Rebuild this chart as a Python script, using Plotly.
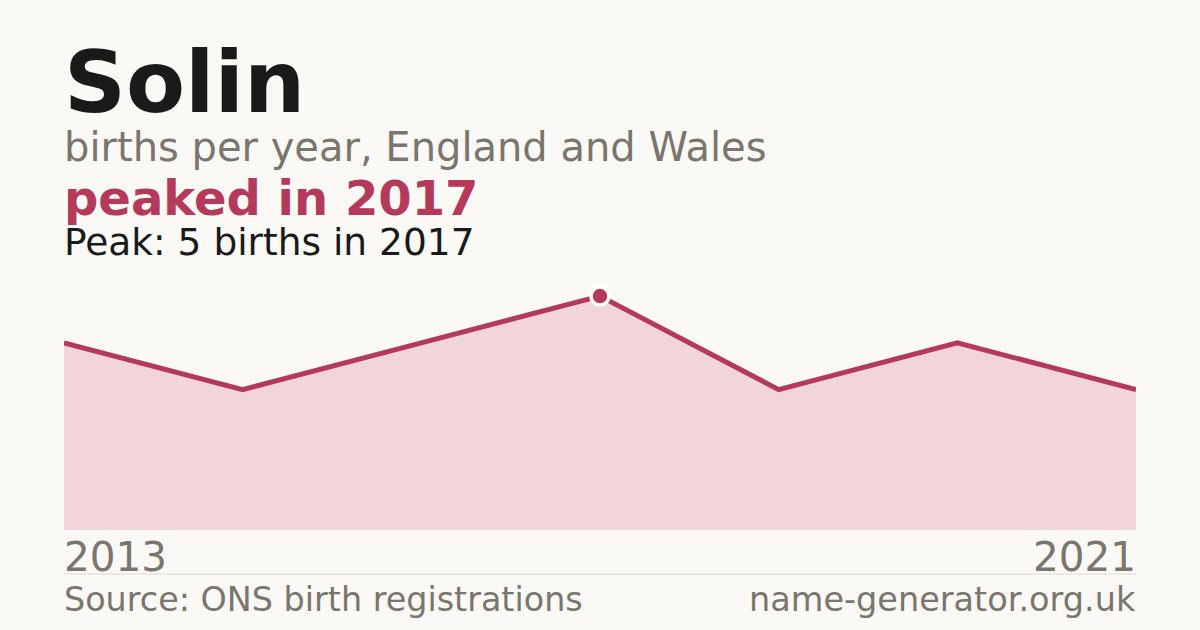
import plotly.graph_objects as go

name = "Solin"
years = ["2013", "2014", "2016", "2017", "2018", "2019", "2021"]
births = [4, 3, 4, 5, 3, 4, 3]
peak_year = "2017"
peak_value = 5

BG = "#FAF9F5"
LINE = "#B5395A"
FILL = "#F2D5DB"
GRAY = "#7A756D"
DARK = "#1A1A1A"
FONT = "DejaVu Sans"

W, H = 1200, 630
L, R, T, B = 64, 64, 282, 100
ph = H - T - B

def py(pix):
    return (H - B - pix) / ph

fig = go.Figure()
fig.add_trace(go.Scatter(
    x=years, y=births, mode="lines", fill="tozeroy",
    fillcolor=FILL, line=dict(color=LINE, width=5), hoverinfo="skip",
))
fig.add_trace(go.Scatter(
    x=[peak_year], y=[peak_value], mode="markers",
    marker=dict(color=LINE, size=18, line=dict(color="white", width=3.5)),
    hoverinfo="skip",
))

ann = []
def text(t, x, y, size, color, bold=False, xanchor="left"):
    ann.append(dict(
        text=f"<b>{t}</b>" if bold else t, x=x, y=py(y), xref="paper", yref="paper",
        xanchor=xanchor, yanchor="middle", showarrow=False,
        xshift=-2 if xanchor == "left" else 2,
        font=dict(family=FONT, size=size, color=color),
    ))

text(name, 0, 82, 86, DARK, bold=True)
text("births per year, England and Wales", 0, 147, 40, GRAY)
text(f"peaked in {peak_year}", 0, 198, 48, LINE, bold=True)
text(f"Peak: {peak_value} births in {peak_year}", 0, 242, 37.5, DARK)
text(years[0], 0, 557, 40.5, GRAY)
text(years[-1], 1, 557, 40.5, GRAY, xanchor="right")
text("Source: ONS birth registrations", 0, 599, 33.4, GRAY)
text("name-generator.org.uk", 1, 599, 33.5, GRAY, xanchor="right")

fig.update_layout(
    width=W, height=H, margin=dict(l=L, r=R, t=T, b=B),
    paper_bgcolor=BG, plot_bgcolor=BG, showlegend=False,
    annotations=ann,
    shapes=[dict(type="line", xref="paper", yref="paper", x0=0, x1=1,
                 y0=py(574), y1=py(574), line=dict(color="#DDDAD2", width=1))],
    xaxis=dict(type="category", range=[0, len(years) - 1], visible=False, fixedrange=True),
    yaxis=dict(range=[0, 5.3], visible=False, fixedrange=True),
)
fig.write_html("out.html", config={"displayModeBar": False},
               post_script="document.body.style.margin='0';document.body.style.background='%s';" % BG)
